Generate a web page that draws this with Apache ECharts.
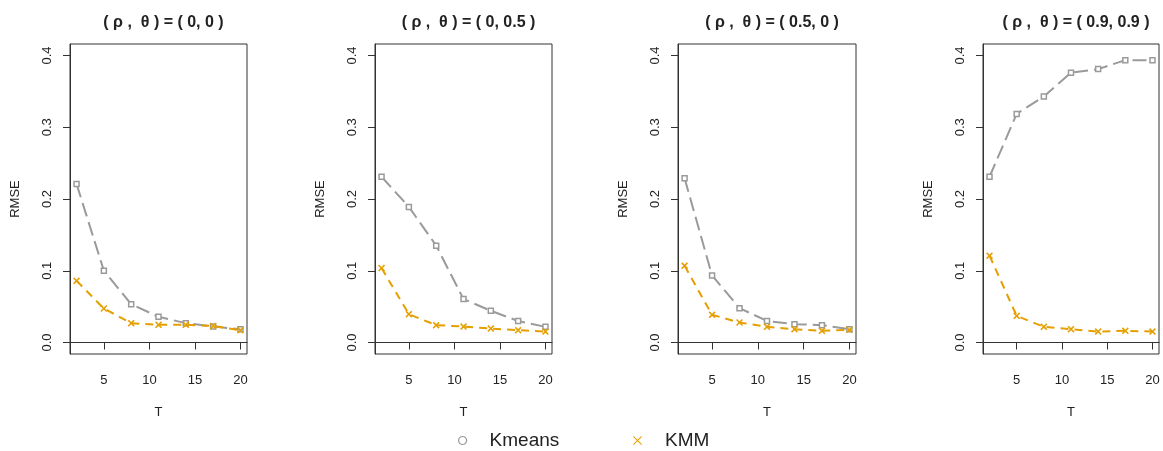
<!DOCTYPE html>
<html><head><meta charset="utf-8">
<script src="https://cdn.jsdelivr.net/npm/echarts@6/dist/echarts.min.js"></script>
<style>html,body{margin:0;padding:0;background:#fff}#c{width:1163px;height:451px}</style>
</head><body><div id="c"></div>
<script>
const T = [2, 5, 8, 11, 14, 17, 20];
const titles = ['( ρ ,  θ ) = ( 0, 0 )', '( ρ ,  θ ) = ( 0, 0.5 )', '( ρ ,  θ ) = ( 0.5, 0 )', '( ρ ,  θ ) = ( 0.9, 0.9 )'];
const kmeans1 = [0.221, 0.100, 0.0535, 0.0358, 0.027, 0.0223, 0.0186];
const kmm1    = [0.086, 0.0474, 0.027, 0.0247, 0.0247, 0.023, 0.0172];
const kmeans2 = [0.231, 0.189, 0.135, 0.0605, 0.0442, 0.030, 0.0219];
const kmm2    = [0.1037, 0.0395, 0.0242, 0.0223, 0.0195, 0.0172, 0.0153];
const kmeans3 = [0.229, 0.0935, 0.0479, 0.030, 0.0256, 0.0242, 0.0186];
const kmm3    = [0.107, 0.0386, 0.0279, 0.0219, 0.0186, 0.0163, 0.0177];
const kmeans4 = [0.231, 0.3186, 0.343, 0.376, 0.381, 0.3935, 0.3935];
const kmm4    = [0.121, 0.0372, 0.0219, 0.0186, 0.0153, 0.0163, 0.0153];
const yTicks = [0, 0.1, 0.2, 0.3, 0.4];
const xTicks = [5, 10, 15, 20];

const kmeansSets = [kmeans1, kmeans2, kmeans3, kmeans4];
const kmmSets = [kmm1, kmm2, kmm3, kmm4];

const GRAY = '#9a9a9a', ORANGE = '#E69F00', INK = '#222';
const lefts = [70, 375, 678, 983];
const widths = [177, 177, 178, 176];
const crossPath = 'path://M0,1.6L1.6,0L5,3.4L8.4,0L10,1.6L6.6,5L10,8.4L8.4,10L5,6.6L1.6,10L0,8.4L3.4,5Z';

const grids = [], xAxes = [], yAxes = [], series = [], title = [];
for (let i = 0; i < 4; i++) {
  grids.push({left: lefts[i], width: widths[i], top: 44, height: 310, show: true, borderColor: '#333', borderWidth: 1, backgroundColor: 'transparent'});
  title.push({text: titles[i], left: lefts[i] + widths[i] / 2, top: 10, textAlign: 'center',
    textStyle: {fontFamily: 'Liberation Sans', fontWeight: 'bold', fontSize: 16, color: INK}});
  xAxes.push({type: 'value', gridIndex: i, min: 1.28, max: 20.72, name: 'T', nameLocation: 'middle', nameGap: 52,
    nameTextStyle: {fontFamily: 'Liberation Sans', fontSize: 13, color: INK},
    axisLine: {show: true, lineStyle: {color: '#333', width: 1}},
    axisTick: {show: true, length: 7, customValues: xTicks, lineStyle: {color: '#333', width: 1}},
    axisLabel: {customValues: xTicks, margin: 20, fontFamily: 'Liberation Sans', fontSize: 13, color: INK},
    splitLine: {show: false}});
  yAxes.push({type: 'value', gridIndex: i, min: -0.016, max: 0.416, name: 'RMSE', nameLocation: 'middle', nameGap: 48, nameRotate: 90,
    nameTextStyle: {fontFamily: 'Liberation Sans', fontSize: 13, color: INK},
    axisLine: {show: true, lineStyle: {color: '#333', width: 1}},
    axisTick: {show: true, length: 7, customValues: yTicks, lineStyle: {color: '#333', width: 1}},
    axisLabel: {customValues: yTicks, rotate: 90, margin: 16, fontFamily: 'Liberation Sans', fontSize: 13, color: INK,
      formatter: v => v.toFixed(1)},
    splitLine: {show: false}});
  series.push({name: 'Kmeans', type: 'line', xAxisIndex: i, yAxisIndex: i,
    data: T.map((t, j) => [t, kmeansSets[i][j]]),
    symbol: 'rect', symbolSize: 5, showAllSymbol: true,
    itemStyle: {color: '#fff', borderColor: GRAY, borderWidth: 1.5},
    lineStyle: {color: GRAY, width: 2, type: [14, 6]}, z: 2, animation: false});
  series.push({name: 'KMM', type: 'line', xAxisIndex: i, yAxisIndex: i,
    data: T.map((t, j) => [t, kmmSets[i][j]]),
    symbol: crossPath, symbolSize: 7, showAllSymbol: true,
    itemStyle: {color: ORANGE, borderWidth: 0},
    lineStyle: {color: ORANGE, width: 2, type: [8, 6]}, z: 3, animation: false});
}

const legendText = {fontFamily: 'Liberation Sans', fontSize: 19, color: INK, padding: [0, 0, 0, 18]};
const option = {
  animation: false,
  backgroundColor: '#fff',
  title: title,
  grid: grids, xAxis: xAxes, yAxis: yAxes, series: series,
  legend: [
    {left: 453, top: 426, itemWidth: 8, itemHeight: 8, selectedMode: false, textStyle: legendText,
      data: [{name: 'Kmeans', icon: 'circle', itemStyle: {color: '#fff', borderColor: GRAY, borderWidth: 1.2}}]},
    {left: 628, top: 426, itemWidth: 9, itemHeight: 9, selectedMode: false, textStyle: legendText,
      data: [{name: 'KMM', icon: 'path://M0,0.8L0.8,0L5,4.2L9.2,0L10,0.8L5.8,5L10,9.2L9.2,10L5,5.8L0.8,10L0,9.2L4.2,5Z', itemStyle: {color: ORANGE}}]}
  ]
};
const chart = echarts.init(document.getElementById('c'), null, {renderer: 'canvas'});
chart.setOption(option);
</script></body></html>
